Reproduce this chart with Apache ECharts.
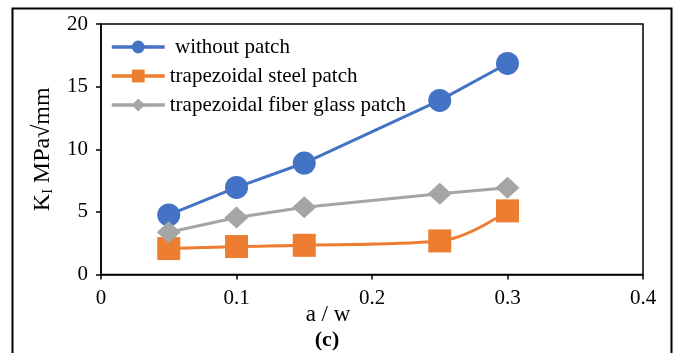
<!DOCTYPE html>
<html><head><meta charset="utf-8">
<script src="https://cdn.jsdelivr.net/npm/echarts@6/dist/echarts.min.js"></script>
<style>html,body{margin:0;padding:0;background:#fff}#c{width:675px;height:353px}</style>
</head><body><div id="c"></div>
<script>
var xValues = [0.05, 0.1, 0.15, 0.25, 0.3];
var withoutPatch = [4.76, 6.95, 8.9, 13.9, 16.85];
var steelPatch = [2.07, 2.23, 2.33, 2.68, 5.08];
var fiberGlassPatch = [3.37, 4.55, 5.37, 6.45, 6.92];
var seriesNames = [' without patch', 'trapezoidal steel patch', 'trapezoidal fiber glass patch'];
var xTicks = {min: 0, max: 0.4, interval: 0.1};
var yTicks = {min: 0, max: 20, interval: 5};

function pairs(v){ return xValues.map(function(x,i){ return [x, v[i]]; }); }
var font = 'Liberation Serif';
var chart = echarts.init(document.getElementById('c'), null, {renderer:'canvas'});
chart.setOption({
  animation: false,
  textStyle: {fontFamily: font},
  grid: {left: 101, right: 32, top: 24, bottom: 78.5, show: true, borderColor: '#000', borderWidth: 1.5, backgroundColor: 'transparent'},
  legend: {
    orient: 'vertical', left: 110, top: 36, padding: 0, itemWidth: 53, itemHeight: 16, itemGap: 7,
    textStyle: {fontFamily: font, fontSize: 21, color: '#000', lineHeight: 22},
    lineStyle: {width: 3.5},
    data: seriesNames
  },
  xAxis: {
    type: 'value', min: xTicks.min, max: xTicks.max, interval: xTicks.interval,
    axisLine: {lineStyle: {color: '#000', width: 1.5}},
    axisTick: {show: true, length: 5, lineStyle: {color: '#000', width: 1.5}},
    axisLabel: {fontFamily: font, fontSize: 21, color: '#000', margin: 13},
    splitLine: {show: false}
  },
  yAxis: {
    type: 'value', min: yTicks.min, max: yTicks.max, interval: yTicks.interval,
    axisLine: {show: true, lineStyle: {color: '#000', width: 1.5}},
    axisTick: {show: true, length: 5, lineStyle: {color: '#000', width: 1.5}},
    axisLabel: {fontFamily: font, fontSize: 21, color: '#000', margin: 13},
    splitLine: {show: false},
    name: '{k|K}{s|I}{k| MPa√mm}', nameLocation: 'middle', nameGap: 46, nameRotate: 90,
    nameTextStyle: {rich: {
      k: {fontFamily: font, fontSize: 24, color: '#000'},
      s: {fontFamily: font, fontSize: 14, color: '#000', padding: [10, 0, 0, 0]}
    }}
  },
  graphic: [
    {type: 'rect', shape: {x: 12.5, y: 8.5, width: 659, height: 400}, style: {fill: 'none', stroke: '#000', lineWidth: 2}, silent: true, z: -1},
    {type: 'text', x: 328, y: 315, style: {text: 'a / w', fontFamily: font, fontSize: 23, fill: '#000', align: 'center', verticalAlign: 'middle'}},
    {type: 'text', x: 327, y: 340, style: {text: '(c)', fontFamily: font, fontSize: 22, fontWeight: 'bold', fill: '#000', align: 'center', verticalAlign: 'middle'}}
  ],
  series: [
    {name: seriesNames[0], type: 'line', data: pairs(withoutPatch), symbol: 'circle', symbolSize: 23,
     lineStyle: {color: '#4472C4', width: 3}, itemStyle: {color: '#4472C4'}},
    {name: seriesNames[1], type: 'line', data: pairs(steelPatch), symbol: 'rect', symbolSize: 23, smooth: 0.4,
     lineStyle: {color: '#ED7D31', width: 3}, itemStyle: {color: '#ED7D31'}},
    {name: seriesNames[2], type: 'line', data: pairs(fiberGlassPatch), symbol: 'diamond', symbolSize: [24, 22],
     lineStyle: {color: '#A5A5A5', width: 3}, itemStyle: {color: '#A5A5A5'}}
  ]
});
</script></body></html>
